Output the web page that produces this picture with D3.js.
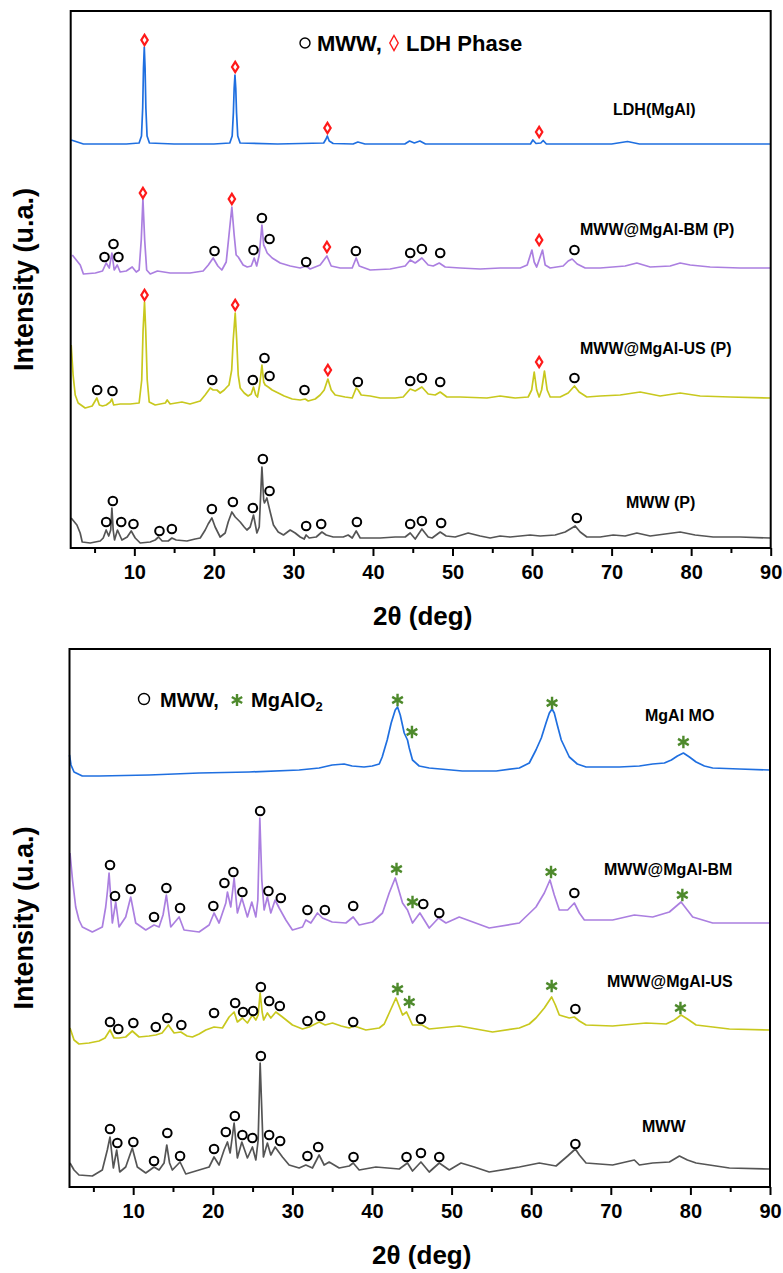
<!DOCTYPE html>
<html>
<head>
<meta charset="utf-8">
<script src="https://cdn.jsdelivr.net/npm/d3@7"></script>
<style>
  html, body { margin: 0; padding: 0; background: #fff; }
  svg text { font-family: "Liberation Sans", Arial, Helvetica, sans-serif; font-weight: bold; fill: #000; }
</style>
</head>
<body>
<svg id="chart" width="783" height="1273"></svg>
<script>
// ---------------- DATA ----------------
const xMajorTicks = [10, 20, 30, 40, 50, 60, 70, 80, 90];
const xMinorTicks = [5, 15, 25, 35, 45, 55, 65, 75, 85];
const xTitle = "2θ (deg)";
const yTitle = "Intensity (u.a.)";

// Top panel: stacked intensities (a.u.) vs 2θ
const ldhMgAl = [[2.06,408],[3.6,404],[6,404],[9,404],[10.6,405],[10.9,412],[11.05,440],[11.15,480],[11.25,501],[11.35,480],[11.45,440],[11.6,412],[11.9,405],[15,404],[20,404],[22.0,405],[22.3,412],[22.45,435],[22.55,460],[22.65,473],[22.75,460],[22.85,435],[23.0,412],[23.3,405],[28,404],[33.8,405],[34.1,409],[34.26,412],[34.5,407],[35,404.5],[37.5,404],[38.1,406],[39,404],[44,404],[44.6,407],[45.2,405],[45.9,407],[46.6,404],[50,404],[55,404],[59.8,404],[60.1,408],[60.5,404.5],[61.1,405],[61.4,407.5],[61.8,404],[65,404],[70,404],[72.0,406.5],[73.5,404],[80,404],[85,404],[89.9,404]];

const mwwMgAlBMP = [[2.2,293],[3.2,283],[3.6,274],[5.1,275],[6.0,277],[6.46,285],[6.85,280],[7.18,295],[7.47,278],[7.85,283],[8.22,276],[8.98,277],[9.73,281],[10.24,276],[10.6,278],[10.87,308],[11.08,349],[11.3,308],[11.55,278],[12.0,274],[12.9,277],[14.5,275],[17.0,275],[18.65,277],[19.3,283],[19.91,290],[20.5,282],[21.0,278],[21.55,286],[21.9,313],[22.26,341],[22.55,313],[22.8,293],[23.06,291],[23.68,283],[24.19,281],[24.7,282],[25.07,290],[25.38,282],[25.7,293],[26.04,323],[26.26,303],[26.45,300],[26.7,295],[27.33,290],[28.34,285],[29.6,282],[30.85,280],[31.6,282],[32.1,279],[33.36,283],[34.21,292],[34.75,282],[35.88,280],[37.39,280],[37.89,290],[38.27,282],[39.65,278],[42.16,279],[44.05,282],[44.68,288],[45.31,285],[46.15,290],[46.94,283],[47.57,282],[48.33,285],[49.08,281],[50.96,280],[53.48,279],[55.99,280],[58.51,280],[59.39,283],[59.98,298],[60.27,286],[60.58,281],[60.89,288],[61.31,298],[61.65,283],[62.28,280],[63.91,282],[64.54,287],[65.04,289],[65.67,284],[66.68,280],[68.56,280],[71.7,282],[73.17,285],[74.85,281],[77.36,282],[78.62,285],[79.88,283],[82.39,281],[86.16,280],[89.93,280]];

const mwwMgAlUSP = [[2.06,203],[2.3,173],[2.57,153],[2.94,145],[3.82,140],[4.7,142],[5.29,150],[5.6,143],[6.0,142],[6.46,143],[6.97,146],[7.18,149],[7.4,143],[8.22,144],[9.48,144],[10.6,145],[10.93,168],[11.1,218],[11.28,246],[11.43,218],[11.62,168],[11.87,146],[12.62,143],[13.25,144],[13.9,145],[14.13,148],[14.5,144],[15.98,146],[17.0,144],[18.28,147],[18.9,153],[19.54,160],[19.91,158],[20.38,158],[20.79,155],[21.3,158],[21.64,161],[21.9,163],[22.24,178],[22.43,208],[22.68,235],[22.87,208],[23.06,173],[23.31,160],[23.81,155],[24.3,152],[24.69,154],[24.98,161],[25.26,153],[25.48,151],[25.76,163],[26.04,183],[26.26,166],[26.45,163],[26.83,161],[27.33,158],[28.09,155],[28.84,152],[29.85,149],[30.85,148],[31.48,149],[31.86,147],[32.74,149],[33.36,153],[33.87,158],[34.33,169],[34.75,158],[35.25,153],[36.5,151],[37.39,150],[37.89,160],[38.14,158],[38.52,153],[39.65,152],[40.91,150],[42.79,150],[43.8,151],[44.68,159],[45.31,157],[46.15,161],[46.94,154],[47.82,153],[48.45,156],[49.29,151],[50.96,151],[54.32,150],[55.99,152],[57.88,150],[59.51,151],[59.95,158],[60.27,176],[60.58,158],[60.89,151],[61.2,158],[61.56,177],[61.9,158],[62.28,151],[63.53,151],[64.54,155],[65.33,162],[65.92,156],[66.89,151],[68.56,152],[71.08,153],[73.59,156],[76.1,152],[78.62,155],[81.13,152],[84.9,151],[89.93,150]];

const mwwP = [[2.06,30],[2.78,23],[3.19,15],[3.45,6],[4.45,5],[5.71,7],[6.09,10],[6.46,18],[6.78,12],[7.03,18],[7.18,40],[7.34,18],[7.51,8],[7.88,18],[8.44,8],[9.1,11],[9.61,17],[10.11,10],[10.74,5],[11.99,6],[12.62,8],[13.04,11],[13.5,7],[14.26,7],[14.72,10],[15.26,8],[16.61,7],[17.65,9],[18.28,10],[18.91,18],[19.28,24],[19.75,30],[20.16,21],[20.79,11],[21.42,15],[21.8,26],[22.26,36],[22.68,31],[23.31,26],[23.81,21],[24.15,18],[24.56,21],[24.98,33],[25.41,15],[25.7,21],[26.04,81],[26.26,48],[26.36,45],[26.66,50],[27.08,36],[27.49,23],[28.09,16],[28.75,13],[29.59,18],[30.22,15],[30.85,11],[31.35,9],[31.6,13],[31.98,10],[32.86,11],[33.58,16],[34.12,13],[35.0,11],[36.26,11],[36.88,13],[37.39,10],[37.89,17],[38.39,10],[40.91,10],[42.79,11],[44.05,11],[44.68,15],[45.31,9],[46.15,19],[46.94,11],[47.44,10],[48.45,16],[49.2,12],[50.33,11],[51.97,15],[53.48,12],[54.73,10],[55.99,12],[57.25,11],[58.51,12],[59.76,13],[61.02,12],[62.9,13],[64.16,16],[64.79,19],[65.42,22],[66.05,16],[66.89,11],[68.56,11],[70.2,13],[71.7,12],[73.17,15],[74.85,12],[76.73,14],[78.62,16],[80.5,13],[82.77,11],[86.16,11],[89.93,10]];

// Top panel phase markers
const ldhDiamondsLDH = [[11.28,508],[22.68,481],[34.28,420],[60.89,416]];
const ldhDiamondsBM = [[11.08,355],[22.26,349],[34.21,301],[60.89,308]];
const ldhDiamondsUS = [[11.28,253],[22.68,243],[34.33,178],[60.89,186]];
const mwwCirclesBMP = [[6.25,291],[7.38,304],[8.0,291],[20.08,297],[24.98,298],[26.04,330],[27.0,309],[31.6,286],[37.85,297],[44.68,295],[46.15,299],[48.45,295],[65.33,298]];
const mwwCirclesUSP = [[5.33,158],[7.25,157],[19.79,168],[24.9,168],[26.36,190],[27.0,172],[31.39,158],[38.1,166],[44.68,167],[46.15,170],[48.45,166],[65.33,170]];
const mwwCirclesP = [[6.46,26],[7.3,47],[8.35,26],[9.89,24],[13.16,17],[14.72,19],[19.75,39],[22.39,46],[24.9,40],[26.16,89],[27.0,57],[31.6,22],[33.49,24],[37.98,26],[44.68,24],[46.15,27],[48.57,25],[65.63,30]];

// Bottom panel: stacked intensities (a.u.) vs 2θ
const mgAlMO = [[2.0,432],[2.19,422],[2.57,415],[3.61,411],[5.71,411],[12.0,412],[18.28,414],[24.56,415],[30.85,417],[33.36,419],[35.0,422],[36.5,423],[37.51,421],[39.0,420],[40.03,421],[40.91,423],[41.28,430],[41.91,447],[42.41,464],[42.92,477],[43.21,480],[43.55,472],[44.05,454],[44.46,447],[44.68,439],[45.09,427],[45.93,421],[47.19,419],[51.34,416],[55.61,416],[58.51,419],[59.76,424],[60.6,437],[61.27,449],[61.86,464],[62.28,474],[62.62,478],[62.9,474],[63.28,462],[63.78,447],[64.79,430],[65.79,423],[66.89,420],[71.08,420],[73.59,421],[75.26,423],[76.73,424],[77.61,427],[78.37,431],[79.12,434],[79.88,430],[80.72,425],[81.76,421],[82.8,419],[86.16,418],[89.93,417]];

const mwwMgAlBM = [[2.06,334],[2.38,307],[2.78,280],[3.19,267],[3.61,260],[4.87,255],[6.12,260],[6.55,280],[6.78,297],[6.97,314],[7.16,292],[7.38,264],[7.81,285],[8.22,260],[9.06,270],[9.69,290],[10.32,264],[11.58,257],[12.62,262],[13.25,260],[13.75,272],[14.17,292],[14.51,272],[14.72,260],[15.77,270],[16.39,257],[18.28,255],[19.54,262],[20.16,274],[20.79,264],[21.64,284],[21.84,295],[22.26,280],[22.68,309],[23.09,274],[23.65,289],[24.35,270],[24.9,285],[25.41,270],[25.66,287],[25.91,369],[26.16,307],[26.45,277],[26.86,290],[27.29,274],[27.83,287],[28.34,279],[29.18,267],[30.01,257],[31.27,260],[31.69,267],[32.32,264],[33.15,274],[33.78,269],[35.0,265],[36.72,264],[37.64,270],[38.39,262],[40.06,265],[41.32,274],[42.16,294],[42.92,309],[43.84,284],[44.46,277],[45.09,264],[46.02,274],[47.19,259],[48.36,269],[49.29,264],[50.96,270],[54.73,259],[58.51,264],[60.6,280],[61.65,294],[62.36,307],[62.9,292],[63.53,277],[64.58,277],[65.42,284],[66.05,274],[66.68,267],[70.23,267],[72.96,272],[75.26,270],[77.36,275],[78.83,285],[80.29,270],[82.8,264],[89.93,264]];

const mwwMgAlUS = [[2.06,159],[2.57,147],[3.19,143],[4.45,144],[5.71,146],[6.46,149],[7.09,157],[7.59,149],[8.22,149],[9.06,150],[9.89,156],[10.74,150],[11.99,151],[12.84,152],[13.63,154],[14.42,162],[15.14,154],[15.98,155],[16.77,151],[17.44,150],[18.28,153],[19.12,157],[20.16,160],[21.21,159],[22.05,170],[22.68,175],[23.09,165],[23.72,169],[24.35,164],[24.98,172],[25.41,167],[25.7,172],[25.95,194],[26.2,175],[26.39,167],[26.86,174],[27.29,169],[27.92,175],[28.75,170],[30.01,162],[31.27,158],[32.11,160],[33.36,165],[34.12,162],[35.04,164],[36.13,161],[37.14,159],[37.76,161],[39.23,157],[40.91,159],[41.54,163],[42.16,174],[43.01,189],[43.84,172],[44.34,175],[45.09,162],[46.27,162],[47.19,158],[50.96,161],[55.15,155],[58.51,159],[59.76,163],[60.6,169],[61.65,179],[62.57,190],[63.04,182],[63.53,172],[64.79,169],[65.42,170],[66.05,166],[66.89,162],[70.23,161],[74.43,164],[76.95,163],[78.0,167],[78.83,172],[79.63,168],[80.72,162],[84.9,158],[89.93,157]];

const mww = [[2.06,24],[2.57,17],[3.19,12],[4.87,11],[6.12,17],[6.75,37],[7.09,50],[7.51,19],[7.93,37],[8.31,15],[9.06,20],[9.89,39],[10.52,20],[11.58,14],[12.62,20],[13.25,17],[13.88,24],[14.22,42],[14.57,24],[14.92,17],[15.89,25],[16.61,13],[18.28,17],[19.54,20],[20.16,30],[20.79,22],[21.42,37],[21.84,45],[22.18,34],[22.68,64],[23.09,29],[23.65,45],[24.35,29],[24.98,40],[25.41,27],[25.7,47],[25.95,124],[26.2,67],[26.36,30],[26.86,44],[27.29,32],[27.83,40],[28.75,30],[29.59,22],[30.85,19],[31.69,22],[32.52,19],[33.36,32],[33.99,22],[34.62,25],[35.88,19],[37.14,21],[37.64,24],[38.39,17],[40.49,20],[43.42,18],[44.46,24],[45.09,16],[46.15,25],[47.19,15],[48.45,24],[49.71,17],[51.18,24],[52.85,20],[54.73,15],[58.51,20],[61.02,24],[63.12,21],[64.58,31],[65.55,38],[66.05,32],[66.89,24],[70.23,22],[72.96,27],[73.59,22],[75.26,24],[77.36,25],[78.62,31],[79.63,27],[80.72,24],[84.9,19],[89.93,18]];

// Bottom panel phase markers
const starsMO = [[43.21,487],[45.02,455],[62.62,484],[79.12,445]];
const starsBM = [[43.08,318],[45.09,285],[62.49,315],[78.99,292]];
const starsUS = [[43.21,198],[44.68,185],[62.57,201],[78.75,179]];
const mwwCirclesBM = [[7.09,322],[7.72,291],[9.69,298],[12.62,270],[14.17,299],[15.89,279],[20.07,281],[21.46,304],[22.59,315],[23.72,295],[25.95,376],[26.99,296],[28.55,289],[31.89,277],[34.08,277],[37.64,281],[46.44,283],[48.45,274],[65.42,294]];
const mwwCirclesUS = [[7.09,165],[8.13,158],[10.02,164],[12.84,160],[14.29,169],[16.05,162],[20.16,174],[22.81,184],[23.81,175],[25.07,176],[26.04,200],[27.08,186],[28.42,181],[31.89,166],[33.49,171],[37.64,165],[46.15,168],[65.55,178]];
const mwwCircles = [[7.09,58],[8.01,44],[10.02,45],[12.62,26],[14.29,54],[15.89,31],[20.16,38],[21.64,55],[22.77,71],[23.72,52],[24.98,49],[26.04,131],[27.08,52],[28.46,46],[31.89,31],[33.24,40],[37.68,30],[44.34,30],[46.15,34],[48.45,30],[65.55,43]];

// Series label texts
const topLabels = ["LDH(MgAl)", "MWW@MgAl-BM (P)", "MWW@MgAl-US (P)", "MWW (P)"];
const bottomLabels = ["MgAl MO", "MWW@MgAl-BM", "MWW@MgAl-US", "MWW"];

// ---------------- STYLE ----------------
const colBlue = "#1f6fe0", colPurple = "#ab7fe0", colYellow = "#c8c81e", colGrey = "#555555";
const colRed = "#ff1a1a", colGreen = "#4e8a2c";

const svg = d3.select("#chart");

function diamondPath(w, h) {
  return `M0,${-h} L${w},0 L0,${h} L${-w},0 Z`;
}
function starPath(r) {
  let p = "";
  [90, 30, 150].forEach(a => {
    const rad = a * Math.PI / 180;
    const dx = r * Math.cos(rad), dy = r * Math.sin(rad);
    p += `M${-dx},${-dy} L${dx},${dy} `;
  });
  return p;
}

function drawPanel(cfg) {
  const g = svg.append("g");
  const x = d3.scaleLinear().domain([2, 90]).range([cfg.left, cfg.right]);
  const y = d3.scaleLinear().domain([0, cfg.ymax]).range([cfg.bottom, cfg.top]);
  const line = d3.line().x(d => x(d[0])).y(d => y(d[1]));

  cfg.series.forEach(s => {
    g.append("path").datum(s.data)
      .attr("fill", "none").attr("stroke", s.color)
      .attr("stroke-width", 1.7).attr("stroke-linejoin", "round")
      .attr("d", line);
  });

  (cfg.circles || []).forEach(arr => {
    g.selectAll(null).data(arr).enter().append("circle")
      .attr("cx", d => x(d[0])).attr("cy", d => y(d[1])).attr("r", 4.3)
      .attr("fill", "#fff").attr("stroke", "#000").attr("stroke-width", 2);
  });
  (cfg.diamonds || []).forEach(arr => {
    g.selectAll(null).data(arr).enter().append("path")
      .attr("transform", d => `translate(${x(d[0])},${y(d[1])})`)
      .attr("d", diamondPath(3.2, 5.2))
      .attr("fill", "#fff").attr("stroke", colRed).attr("stroke-width", 2.2);
  });
  (cfg.stars || []).forEach(arr => {
    g.selectAll(null).data(arr).enter().append("path")
      .attr("transform", d => `translate(${x(d[0])},${y(d[1])})`)
      .attr("d", starPath(6.2))
      .attr("fill", "none").attr("stroke", colGreen).attr("stroke-width", 2.4);
  });

  cfg.labels.forEach(l => {
    g.append("text").attr("x", l.x).attr("y", l.y)
      .attr("font-size", 16).text(l.text);
  });

  g.append("rect").attr("x", cfg.left).attr("y", cfg.top)
    .attr("width", cfg.right - cfg.left).attr("height", cfg.bottom - cfg.top)
    .attr("fill", "none").attr("stroke", "#000").attr("stroke-width", 2);

  const ax = g.append("g").attr("transform", `translate(0,${cfg.bottom})`)
    .call(d3.axisBottom(x).tickValues(xMajorTicks).tickSize(8).tickPadding(9).tickFormat(d3.format("d")));
  ax.select(".domain").remove();
  ax.selectAll(".tick line").attr("stroke", "#000").attr("stroke-width", 2);
  ax.selectAll(".tick text").attr("font-size", 20).attr("font-family", "Liberation Sans, Arial, sans-serif")
    .attr("font-weight", "bold").attr("fill", "#000");
  const axm = g.append("g").attr("transform", `translate(0,${cfg.bottom})`)
    .call(d3.axisBottom(x).tickValues(xMinorTicks).tickSize(5).tickFormat(""));
  axm.select(".domain").remove();
  axm.selectAll(".tick line").attr("stroke", "#000").attr("stroke-width", 2);

  g.append("text").attr("x", (cfg.left + cfg.right) / 2 + 2).attr("y", cfg.bottom + 77)
    .attr("text-anchor", "middle").attr("font-size", 26).text(xTitle);
  g.append("text")
    .attr("transform", `translate(33,${(cfg.top + cfg.bottom) / 2}) rotate(-90)`)
    .attr("text-anchor", "middle").attr("font-size", 27).text(yTitle);

  return { x, y, g };
}

// ---------- Top panel ----------
const topPanel = drawPanel({
  left: 70.7, right: 770.7, top: 11, bottom: 548, ymax: 537,
  series: [
    { data: ldhMgAl, color: colBlue },
    { data: mwwMgAlBMP, color: colPurple },
    { data: mwwMgAlUSP, color: colYellow },
    { data: mwwP, color: colGrey }
  ],
  circles: [mwwCirclesBMP, mwwCirclesUSP, mwwCirclesP],
  diamonds: [ldhDiamondsLDH, ldhDiamondsBM, ldhDiamondsUS],
  labels: [
    { text: topLabels[0], x: 613, y: 115 },
    { text: topLabels[1], x: 580, y: 235 },
    { text: topLabels[2], x: 580, y: 354 },
    { text: topLabels[3], x: 626, y: 508 }
  ]
});
topPanel.g.append("circle").attr("cx", 305).attr("cy", 43).attr("r", 5)
  .attr("fill", "none").attr("stroke", "#000").attr("stroke-width", 1.4);
topPanel.g.append("text").attr("x", 317).attr("y", 51).attr("font-size", 22).text("MWW,");
topPanel.g.append("path").attr("transform", "translate(394,43)").attr("d", diamondPath(4.2, 7.5))
  .attr("fill", "none").attr("stroke", colRed).attr("stroke-width", 1.4);
topPanel.g.append("text").attr("x", 406).attr("y", 51).attr("font-size", 22).text("LDH Phase");

// ---------- Bottom panel ----------
const botPanel = drawPanel({
  left: 69.5, right: 770, top: 649, bottom: 1187, ymax: 538,
  series: [
    { data: mgAlMO, color: colBlue },
    { data: mwwMgAlBM, color: colPurple },
    { data: mwwMgAlUS, color: colYellow },
    { data: mww, color: colGrey }
  ],
  circles: [mwwCirclesBM, mwwCirclesUS, mwwCircles],
  stars: [starsMO, starsBM, starsUS],
  labels: [
    { text: bottomLabels[0], x: 645, y: 721 },
    { text: bottomLabels[1], x: 604, y: 875 },
    { text: bottomLabels[2], x: 607, y: 987 },
    { text: bottomLabels[3], x: 642, y: 1132 }
  ]
});
botPanel.g.append("circle").attr("cx", 144).attr("cy", 699).attr("r", 5.5)
  .attr("fill", "none").attr("stroke", "#000").attr("stroke-width", 1.4);
botPanel.g.append("text").attr("x", 160).attr("y", 707).attr("font-size", 20).text("MWW,");
botPanel.g.append("path").attr("transform", "translate(237,700)").attr("d", starPath(6))
  .attr("fill", "none").attr("stroke", colGreen).attr("stroke-width", 2.4);
const legText = botPanel.g.append("text").attr("x", 251).attr("y", 707).attr("font-size", 20);
legText.append("tspan").text("MgAlO");
legText.append("tspan").attr("font-size", 13).attr("dy", 4).text("2");
</script>
</body>
</html>
